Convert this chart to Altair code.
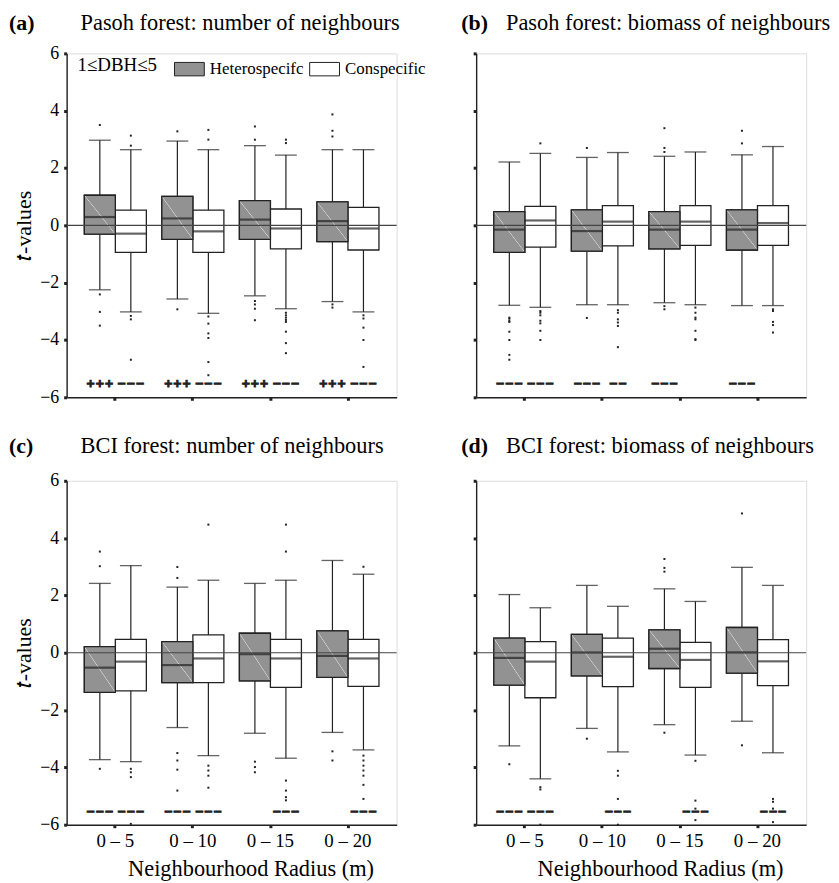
import altair as alt
import pandas as pd

RADII = ["0 – 5", "0 – 10", "0 – 15", "0 – 20"]
TYPES = ["Heterospecifc", "Conspecific"]
Y_TICKS = [-6, -4, -2, 0, 2, 4, 6]

# Box order: 0–5 het, 0–5 con, 0–10 het, 0–10 con, 0–15 het, 0–15 con, 0–20 het, 0–20 con
# (a) Pasoh, number of neighbours
A_LO = [-2.25, -3.02, -2.57, -3.07, -2.46, -2.91, -2.66, -3.02]
A_Q1 = [-0.31, -0.94, -0.49, -0.94, -0.49, -0.82, -0.57, -0.86]
A_MED = [0.29, -0.29, 0.24, -0.21, 0.20, -0.11, 0.15, -0.11]
A_Q3 = [1.05, 0.53, 1.01, 0.53, 0.86, 0.57, 0.82, 0.63]
A_HI = [2.97, 2.64, 2.94, 2.64, 2.78, 2.45, 2.64, 2.64]
A_OUT = [
    [3.5, -2.41, -3.02, -3.5],
    [3.13, 2.78, -3.16, -3.28, -4.69],
    [3.28, -2.93],
    [3.33, 2.99, -3.18, -3.43, -3.77, -3.93, -4.77, -5.23],
    [3.45, 2.99, -2.64, -2.76, -2.91, -3.31],
    [2.99, 2.87, -3.05, -3.14, -3.22, -3.30, -3.37, -3.71, -4.11, -4.46],
    [3.87, 3.30, 3.10, -2.76, -2.87],
    [-3.14, -3.25, -3.57, -4.0, -4.94],
]
A_SIG = ["+++", "−−−", "+++", "−−−", "+++", "−−−", "+++", "−−−"]

# (b) Pasoh, biomass of neighbours
B_LO = [-2.79, -2.86, -2.77, -2.77, -2.70, -2.77, -2.80, -2.80]
B_Q1 = [-0.94, -0.76, -0.90, -0.72, -0.82, -0.70, -0.86, -0.70]
B_MED = [-0.15, 0.17, -0.20, 0.13, -0.15, 0.13, -0.15, 0.08]
B_Q3 = [0.48, 0.66, 0.54, 0.69, 0.48, 0.69, 0.54, 0.69]
B_HI = [2.21, 2.51, 2.37, 2.54, 2.41, 2.56, 2.46, 2.75]
B_OUT = [
    [-3.22, -3.26, -3.34, -3.37, -3.71, -4.0, -4.52, -4.69],
    [2.86, -2.99, -3.05, -3.14, -3.33, -3.42, -3.68, -4.0],
    [2.70, -3.23],
    [-2.96, -3.05, -3.28, -3.39, -3.51, -4.25],
    [3.39, 2.70, 2.56, -2.82, -2.93],
    [-2.87, -3.05, -3.22, -3.28, -3.68, -3.97, -4.0],
    [3.30, 2.86],
    [-2.93, -2.99, -3.37, -3.48, -3.74],
]
B_SIG = ["−−−", "−−−", "−−−", "−−", "−−−", "", "−−−", ""]

# (c) BCI, number of neighbours
C_LO = [-3.73, -3.80, -2.61, -3.59, -2.81, -3.68, -2.78, -3.39]
C_Q1 = [-1.38, -1.33, -1.04, -1.04, -0.98, -1.21, -0.86, -1.17]
C_MED = [-0.52, -0.31, -0.43, -0.20, -0.05, -0.20, -0.11, -0.20]
C_Q3 = [0.21, 0.47, 0.39, 0.62, 0.68, 0.47, 0.76, 0.47]
C_HI = [2.42, 3.04, 2.29, 2.53, 2.42, 2.53, 3.22, 2.74]
C_OUT = [
    [3.53, 3.02, -4.05],
    [-4.05, -4.17, -4.34, -5.97],
    [2.99, 2.61, -3.50, -3.76, -4.08, -4.81],
    [4.47, -3.94, -4.11, -4.29, -4.71],
    [-3.80, -3.99, -4.17],
    [4.47, 3.53, -4.46, -4.81, -5.04, -5.15],
    [-3.44, -3.76],
    [3.0, -3.59, -3.76, -3.94, -4.11, -4.29, -4.61, -5.10],
]
C_SIG = ["−−−", "−−−", "−−−", "−−−", "", "−−−", "", "−−−"]

# (d) BCI, biomass of neighbours
D_LO = [-3.25, -4.40, -2.64, -3.46, -2.51, -3.57, -2.39, -3.49]
D_Q1 = [-1.13, -1.57, -0.81, -1.18, -0.55, -1.21, -0.71, -1.15]
D_MED = [-0.18, -0.31, 0.01, -0.14, 0.14, -0.25, 0.01, -0.30]
D_Q3 = [0.51, 0.39, 0.64, 0.51, 0.80, 0.36, 0.88, 0.46]
D_HI = [2.03, 1.57, 2.35, 1.62, 2.23, 1.79, 2.98, 2.35]
D_OUT = [
    [-3.89],
    [-4.69, -4.77, -6.0],
    [-3.0],
    [-4.12, -4.29, -5.10, -6.0],
    [3.27, 2.96, 2.83, -2.79],
    [-3.77, -5.16, -5.44, -5.84],
    [4.86, -3.23],
    [-5.10, -5.20, -5.44, -5.91],
]
D_SIG = ["−−−", "−−−", "", "−−−", "", "−−−", "", "−−−"]

SIG_LEVEL = -5.55

FONT = "Liberation Serif"
INK = "#222222"
HET_FILL = "#929292"
HET_HATCH = alt.LinearGradient(
    gradient="linear", x1=0, y1=1, x2=1, y2=0,
    stops=[
        alt.GradientStop(offset=0, color=HET_FILL),
        alt.GradientStop(offset=0.488, color=HET_FILL),
        alt.GradientStop(offset=0.5, color="#d6d6d6"),
        alt.GradientStop(offset=0.512, color=HET_FILL),
        alt.GradientStop(offset=1, color=HET_FILL),
    ],
)


def frames(lo, q1, med, q3, hi, outs, sig):
    rows, orows, srows = [], [], []
    for i in range(8):
        r = RADII[i // 2]
        t = TYPES[i % 2]
        rows.append(dict(radius=r, type=t, lo=lo[i], q1=q1[i], med=med[i], q3=q3[i], hi=hi[i]))
        for v in outs[i]:
            orows.append(dict(radius=r, type=t, v=v))
        if sig[i]:
            srows.append(dict(radius=r, type=t, s=sig[i], v=SIG_LEVEL))
    return pd.DataFrame(rows), pd.DataFrame(orows), pd.DataFrame(srows)


legend = alt.Legend(
    title="1≤DBH≤5", orient="none", legendX=11, legendY=0, direction="horizontal",
    titleOrient="left", titleFont=FONT, titleFontSize=19, titleFontWeight="normal",
    titleColor="black", titlePadding=17, titleBaseline="middle",
    labelFont=FONT, labelFontSize=17, labelColor="black", labelOffset=5,
    symbolType="M-1,-0.45H1V0.45H-1Z", symbolSize=900, symbolStrokeColor=INK,
    symbolStrokeWidth=1, symbolOpacity=1, columnPadding=3,
)


def panel(data, tag, title, tag_x, title_x, head_y, bottom, left):
    box, out, sg = data
    xaxis = alt.Axis(
        labels=bottom, title="Neighbourhood Radius (m)" if bottom else None,
        labelAngle=0, labelFont=FONT, labelFontSize=19, labelColor="black", labelPadding=4,
        titleFont=FONT, titleFontSize=22.5, titleFontWeight="normal", titleColor="black",
        titlePadding=7, titleX=185, tickSize=3, tickWidth=3, tickColor=INK, domainColor=INK,
        domainWidth=1.4, grid=False,
    )
    yaxis = alt.Axis(
        values=Y_TICKS, format="d", labels=left, title="𝑡-values" if left else None,
        labelFont=FONT, labelFontSize=18, labelColor="black", labelPadding=5,
        titleFont=FONT, titleFontSize=22, titleFontWeight="normal", titleColor="black",
        titlePadding=4, tickSize=3, tickWidth=3, tickColor=INK, domainColor=INK,
        domainWidth=1.4, grid=False,
    )
    yscale = alt.Scale(domain=[-6, 6], nice=False, zero=False)
    x = alt.X("radius:N", sort=RADII,
              scale=alt.Scale(domain=RADII, paddingInner=0.2, paddingOuter=0.228),
              axis=xaxis)
    xo = alt.XOffset("type:N", sort=TYPES,
                     scale=alt.Scale(domain=TYPES, paddingInner=0, paddingOuter=0))

    def Y(f):
        return alt.Y(f, type="quantitative", scale=yscale, axis=yaxis)

    base = alt.Chart(box)
    whisk = base.mark_rule(color=INK, strokeWidth=1.2).encode(
        x=x, xOffset=xo, y=Y("lo"), y2="hi")
    boxes = base.mark_bar(stroke=INK, strokeWidth=1.3, opacity=1).encode(
        x=x, xOffset=xo, y=Y("q1"), y2="q3",
        fill=alt.Fill("type:N", scale=alt.Scale(domain=TYPES, range=[HET_FILL, "#ffffff"]),
                      legend=legend))
    hatch = base.transform_filter(alt.datum.type == TYPES[0]).mark_bar(
        fill=HET_HATCH, stroke=INK, strokeWidth=1.3, opacity=1).encode(
        x=x, xOffset=xo, y=Y("q1"), y2="q3")
    med = base.mark_tick(color=INK, size=31, thickness=2.2).encode(x=x, xOffset=xo, y=Y("med"))
    cap_hi = base.mark_tick(color=INK, size=22, thickness=1.3).encode(x=x, xOffset=xo, y=Y("hi"))
    cap_lo = base.mark_tick(color=INK, size=22, thickness=1.3).encode(x=x, xOffset=xo, y=Y("lo"))
    pts = alt.Chart(out).mark_square(size=4, color=INK, opacity=1).encode(
        x=x, xOffset=xo, y=Y("v"))
    zero = alt.Chart(pd.DataFrame({"zero": [0]})).mark_rule(color="#444", strokeWidth=1.2).encode(
        y=Y("zero"))
    sig = alt.Chart(sg).mark_text(font="DejaVu Sans", fontWeight="bold", fontSize=11,
                                  stroke=INK, strokeWidth=1.0, color=INK,
                                  baseline="middle", align="center").encode(
        x=x, xOffset=xo, y=Y("v"), text="s:N")
    head = alt.Chart(pd.DataFrame({"tag": [tag], "title": [title]}))
    tag_layer = head.mark_text(
        font=FONT, fontSize=22, fontWeight="bold", align="left", baseline="alphabetic",
        color="black").encode(x=alt.value(tag_x), y=alt.value(head_y), text="tag:N")
    title_layer = head.mark_text(
        font=FONT, fontSize=22.5, fontWeight="normal", align="left", baseline="alphabetic",
        color="black").encode(x=alt.value(title_x), y=alt.value(head_y), text="title:N")
    return alt.layer(whisk, boxes, hatch, med, cap_hi, cap_lo, pts, zero, sig,
                     tag_layer, title_layer).properties(width=332, height=346)


pa = panel(frames(A_LO, A_Q1, A_MED, A_Q3, A_HI, A_OUT, A_SIG), "(a)",
           "Pasoh forest: number of neighbours", -58, 14, -24, False, True)
pb = panel(frames(B_LO, B_Q1, B_MED, B_Q3, B_HI, B_OUT, B_SIG), "(b)",
           "Pasoh forest: biomass of neighbours", -15, 30, -24, False, False)
pc = panel(frames(C_LO, C_Q1, C_MED, C_Q3, C_HI, C_OUT, C_SIG), "(c)",
           "BCI forest: number of neighbours", -58, 14, -28, True, True)
pd_ = panel(frames(D_LO, D_Q1, D_MED, D_Q3, D_HI, D_OUT, D_SIG), "(d)",
            "BCI forest: biomass of neighbours", -15, 30, -28, True, False)

chart = alt.concat(pa, pb, pc, pd_, columns=2, spacing={"row": 84, "column": 80},
                   bounds="flush").properties(
    padding={"left": 0, "top": 0, "right": 0, "bottom": 0}
).configure_view(stroke=None).configure(background="white").configure_axis(
    labelFont=FONT, titleFont=FONT
)

chart.save("out.html", embed_options={"renderer": "svg", "actions": False})
